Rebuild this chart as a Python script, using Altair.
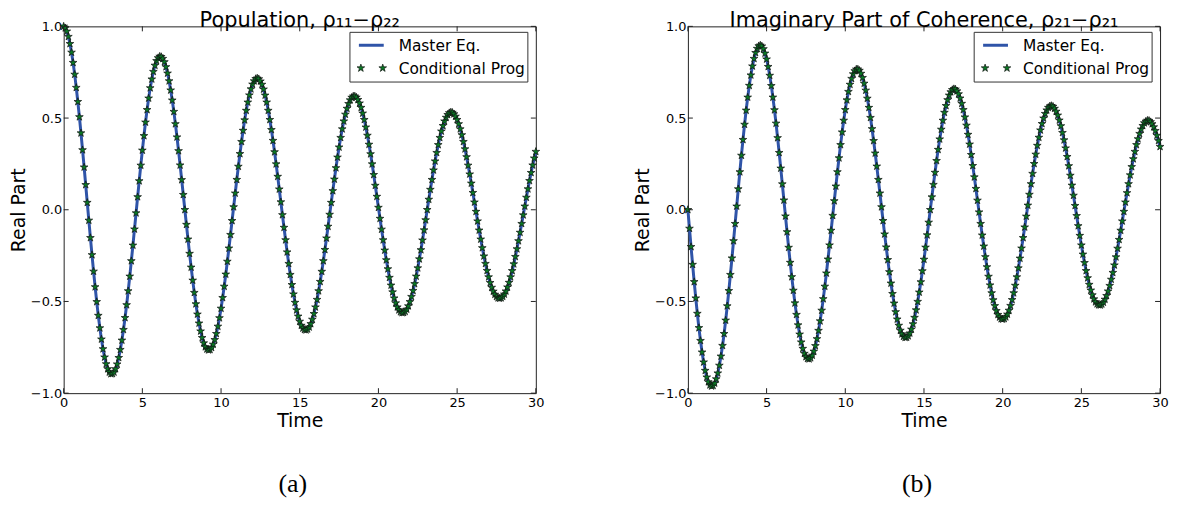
import altair as alt
import pandas as pd

# ---------------- data ----------------
time = [
    0.0, 0.1, 0.2, 0.3, 0.4, 0.5, 0.6, 0.7, 0.8, 0.9,
    1.0, 1.1, 1.2, 1.3, 1.4, 1.5, 1.6, 1.7, 1.8, 1.9,
    2.0, 2.1, 2.2, 2.3, 2.4, 2.5, 2.6, 2.7, 2.8, 2.9,
    3.0, 3.1, 3.2, 3.3, 3.4, 3.5, 3.6, 3.7, 3.8, 3.9,
    4.0, 4.1, 4.2, 4.3, 4.4, 4.5, 4.6, 4.7, 4.8, 4.9,
    5.0, 5.1, 5.2, 5.3, 5.4, 5.5, 5.6, 5.7, 5.8, 5.9,
    6.0, 6.1, 6.2, 6.3, 6.4, 6.5, 6.6, 6.7, 6.8, 6.9,
    7.0, 7.1, 7.2, 7.3, 7.4, 7.5, 7.6, 7.7, 7.8, 7.9,
    8.0, 8.1, 8.2, 8.3, 8.4, 8.5, 8.6, 8.7, 8.8, 8.9,
    9.0, 9.1, 9.2, 9.3, 9.4, 9.5, 9.6, 9.7, 9.8, 9.9,
    10.0, 10.1, 10.2, 10.3, 10.4, 10.5, 10.6, 10.7, 10.8, 10.9,
    11.0, 11.1, 11.2, 11.3, 11.4, 11.5, 11.6, 11.7, 11.8, 11.9,
    12.0, 12.1, 12.2, 12.3, 12.4, 12.5, 12.6, 12.7, 12.8, 12.9,
    13.0, 13.1, 13.2, 13.3, 13.4, 13.5, 13.6, 13.7, 13.8, 13.9,
    14.0, 14.1, 14.2, 14.3, 14.4, 14.5, 14.6, 14.7, 14.8, 14.9,
    15.0, 15.1, 15.2, 15.3, 15.4, 15.5, 15.6, 15.7, 15.8, 15.9,
    16.0, 16.1, 16.2, 16.3, 16.4, 16.5, 16.6, 16.7, 16.8, 16.9,
    17.0, 17.1, 17.2, 17.3, 17.4, 17.5, 17.6, 17.7, 17.8, 17.9,
    18.0, 18.1, 18.2, 18.3, 18.4, 18.5, 18.6, 18.7, 18.8, 18.9,
    19.0, 19.1, 19.2, 19.3, 19.4, 19.5, 19.6, 19.7, 19.8, 19.9,
    20.0, 20.1, 20.2, 20.3, 20.4, 20.5, 20.6, 20.7, 20.8, 20.9,
    21.0, 21.1, 21.2, 21.3, 21.4, 21.5, 21.6, 21.7, 21.8, 21.9,
    22.0, 22.1, 22.2, 22.3, 22.4, 22.5, 22.6, 22.7, 22.8, 22.9,
    23.0, 23.1, 23.2, 23.3, 23.4, 23.5, 23.6, 23.7, 23.8, 23.9,
    24.0, 24.1, 24.2, 24.3, 24.4, 24.5, 24.6, 24.7, 24.8, 24.9,
    25.0, 25.1, 25.2, 25.3, 25.4, 25.5, 25.6, 25.7, 25.8, 25.9,
    26.0, 26.1, 26.2, 26.3, 26.4, 26.5, 26.6, 26.7, 26.8, 26.9,
    27.0, 27.1, 27.2, 27.3, 27.4, 27.5, 27.6, 27.7, 27.8, 27.9,
    28.0, 28.1, 28.2, 28.3, 28.4, 28.5, 28.6, 28.7, 28.8, 28.9,
    29.0, 29.1, 29.2, 29.3, 29.4, 29.5, 29.6, 29.7, 29.8, 29.9,
    30.0,
]

# (a) Population rho11 - rho22
population = [
    1.000, 0.991, 0.973, 0.944, 0.905, 0.858, 0.802, 0.738, 0.666, 0.589,
    0.506, 0.418, 0.326, 0.232, 0.136, 0.039, -0.058, -0.153, -0.246, -0.336,
    -0.421, -0.502, -0.577, -0.645, -0.706, -0.759, -0.804, -0.841, -0.868, -0.886,
    -0.895, -0.894, -0.886, -0.868, -0.842, -0.807, -0.763, -0.712, -0.654, -0.589,
    -0.519, -0.443, -0.363, -0.279, -0.194, -0.106, -0.018, 0.070, 0.157, 0.242,
    0.324, 0.403, 0.477, 0.545, 0.608, 0.664, 0.712, 0.753, 0.787, 0.812,
    0.828, 0.836, 0.834, 0.824, 0.806, 0.779, 0.744, 0.702, 0.652, 0.597,
    0.535, 0.468, 0.396, 0.321, 0.243, 0.163, 0.082, 0.000, -0.081, -0.161,
    -0.239, -0.314, -0.385, -0.452, -0.514, -0.570, -0.619, -0.662, -0.698, -0.727,
    -0.748, -0.760, -0.765, -0.763, -0.752, -0.734, -0.709, -0.676, -0.636, -0.590,
    -0.538, -0.480, -0.418, -0.352, -0.282, -0.210, -0.136, -0.060, 0.015, 0.090,
    0.164, 0.236, 0.305, 0.371, 0.432, 0.489, 0.541, 0.586, 0.625, 0.658,
    0.684, 0.702, 0.714, 0.717, 0.713, 0.701, 0.683, 0.657, 0.624, 0.586,
    0.541, 0.491, 0.436, 0.377, 0.315, 0.249, 0.181, 0.112, 0.042, -0.028,
    -0.097, -0.165, -0.231, -0.294, -0.354, -0.409, -0.460, -0.506, -0.547, -0.581,
    -0.609, -0.631, -0.646, -0.654, -0.656, -0.651, -0.640, -0.622, -0.598, -0.567,
    -0.531, -0.490, -0.443, -0.392, -0.337, -0.279, -0.218, -0.155, -0.091, -0.026,
    0.039, 0.103, 0.166, 0.228, 0.286, 0.341, 0.393, 0.440, 0.483, 0.520,
    0.552, 0.578, 0.598, 0.612, 0.619, 0.619, 0.613, 0.600, 0.581, 0.557,
    0.526, 0.491, 0.450, 0.405, 0.356, 0.304, 0.249, 0.191, 0.132, 0.072,
    0.012, -0.048, -0.107, -0.165, -0.221, -0.274, -0.323, -0.370, -0.412, -0.449,
    -0.482, -0.509, -0.531, -0.547, -0.557, -0.562, -0.561, -0.555, -0.543, -0.525,
    -0.502, -0.474, -0.441, -0.404, -0.363, -0.318, -0.269, -0.219, -0.166, -0.111,
    -0.056, 0.000, 0.056, 0.110, 0.164, 0.216, 0.265, 0.311, 0.354, 0.393,
    0.428, 0.458, 0.483, 0.503, 0.518, 0.528, 0.532, 0.530, 0.522, 0.509,
    0.491, 0.468, 0.440, 0.408, 0.371, 0.331, 0.288, 0.242, 0.194, 0.144,
    0.093, 0.041, -0.010, -0.062, -0.112, -0.161, -0.208, -0.253, -0.294, -0.332,
    -0.367, -0.398, -0.424, -0.445, -0.462, -0.474, -0.481, -0.483, -0.481, -0.473,
    -0.461, -0.444, -0.422, -0.397, -0.367, -0.333, -0.296, -0.256, -0.214, -0.170,
    -0.124, -0.076, -0.029, 0.019, 0.067, 0.113, 0.158, 0.202, 0.243, 0.281,
    0.317,
]

# (b) Imaginary part of coherence rho21
coherence = [
    0.000, -0.102, -0.202, -0.299, -0.393, -0.482, -0.566, -0.644, -0.714, -0.777,
    -0.831, -0.877, -0.913, -0.939, -0.956, -0.962, -0.959, -0.946, -0.923, -0.891,
    -0.849, -0.799, -0.741, -0.676, -0.603, -0.525, -0.442, -0.354, -0.264, -0.170,
    -0.076, 0.019, 0.113, 0.206, 0.296, 0.382, 0.465, 0.542, 0.613, 0.677,
    0.734, 0.783, 0.824, 0.856, 0.879, 0.893, 0.897, 0.892, 0.877, 0.853,
    0.821, 0.780, 0.732, 0.676, 0.613, 0.544, 0.471, 0.392, 0.311, 0.226,
    0.140, 0.052, -0.035, -0.121, -0.206, -0.288, -0.366, -0.440, -0.509, -0.572,
    -0.629, -0.679, -0.722, -0.757, -0.784, -0.802, -0.812, -0.814, -0.808, -0.794,
    -0.772, -0.742, -0.704, -0.659, -0.607, -0.549, -0.486, -0.418, -0.346, -0.270,
    -0.193, -0.113, -0.032, 0.048, 0.128, 0.206, 0.282, 0.354, 0.423, 0.487,
    0.545, 0.598, 0.644, 0.683, 0.715, 0.740, 0.757, 0.766, 0.766, 0.759,
    0.743, 0.720, 0.689, 0.651, 0.607, 0.557, 0.502, 0.441, 0.376, 0.308,
    0.237, 0.164, 0.090, 0.015, -0.060, -0.133, -0.204, -0.273, -0.339, -0.401,
    -0.458, -0.510, -0.557, -0.597, -0.631, -0.658, -0.678, -0.691, -0.697, -0.696,
    -0.688, -0.673, -0.652, -0.623, -0.588, -0.547, -0.501, -0.450, -0.394, -0.334,
    -0.271, -0.205, -0.138, -0.069, 0.000, 0.069, 0.137, 0.203, 0.267, 0.328,
    0.385, 0.438, 0.487, 0.530, 0.567, 0.599, 0.624, 0.642, 0.654, 0.659,
    0.657, 0.647, 0.631, 0.608, 0.579, 0.545, 0.505, 0.460, 0.410, 0.357,
    0.300, 0.240, 0.178, 0.115, 0.051, -0.013, -0.076, -0.139, -0.199, -0.257,
    -0.312, -0.364, -0.411, -0.454, -0.492, -0.524, -0.551, -0.572, -0.586, -0.595,
    -0.597, -0.594, -0.585, -0.570, -0.549, -0.523, -0.491, -0.454, -0.413, -0.367,
    -0.318, -0.265, -0.210, -0.153, -0.095, -0.036, 0.024, 0.083, 0.141, 0.197,
    0.251, 0.302, 0.350, 0.394, 0.434, 0.469, 0.499, 0.524, 0.543, 0.557,
    0.565, 0.567, 0.563, 0.552, 0.536, 0.515, 0.488, 0.457, 0.420, 0.380,
    0.336, 0.289, 0.239, 0.187, 0.133, 0.078, 0.022, -0.033, -0.088, -0.141,
    -0.193, -0.243, -0.289, -0.333, -0.372, -0.408, -0.439, -0.465, -0.487, -0.503,
    -0.514, -0.519, -0.520, -0.515, -0.505, -0.489, -0.469, -0.444, -0.414, -0.380,
    -0.343, -0.302, -0.258, -0.211, -0.163, -0.113, -0.062, -0.010, 0.041, 0.092,
    0.141, 0.189, 0.234, 0.277, 0.317, 0.354, 0.386, 0.415, 0.439, 0.458,
    0.473, 0.482, 0.487, 0.486, 0.479, 0.468, 0.451, 0.431, 0.405, 0.376,
    0.344,
]

x_ticks = [0, 5, 10, 15, 20, 25, 30]
y_ticks = [-1.0, -0.5, 0.0, 0.5, 1.0]
series_names = ["Master Eq.", "Conditional Prog"]
titles = ["Population, ρ₁₁−ρ₂₂", "Imaginary Part of Coherence, ρ₂₁−ρ₂₁"]
captions = ["(a)", "(b)"]

# ---------------- styling ----------------
W, H = 475, 369
FONT = "DejaVu Sans"
LINE_COLOR = "#2f54a8"
STAR_FILL = "#0a7a25"
AX = "#222222"
TICK = 5
STAR = ("M0,-1L0.2245,-0.309L0.951,-0.309L0.363,0.118L0.588,0.809L0,0.382"
        "L-0.588,0.809L-0.363,0.118L-0.951,-0.309L-0.2245,-0.309Z")
STAR_SIZE = 66

xs = alt.Scale(domain=[0, 30], nice=False, zero=False)
ys = alt.Scale(domain=[-1, 1], nice=False, zero=False)
x_axis = alt.Axis(title="Time", values=x_ticks, format="d")
y_axis = alt.Axis(title="Real Part", values=y_ticks, format=".1f")
one = alt.Data(values=[{"k": 1}])


def X(field):
    return alt.X(f"{field}:Q", scale=xs, axis=x_axis, title="Time")


def Y(field):
    return alt.Y(f"{field}:Q", scale=ys, axis=y_axis, title="Real Part")


def star_mark(chart):
    return chart.mark_point(shape=STAR, filled=True, fill=STAR_FILL, stroke="#111111",
                            strokeWidth=0.7, size=STAR_SIZE, opacity=1)


def panel(values, title, caption):
    df = pd.DataFrame({"t": time, "v": values})
    base = alt.Chart(df)
    line = base.mark_line(color=LINE_COLOR, strokeWidth=3).encode(x=X("t"), y=Y("v"))
    stars = star_mark(base).encode(x=X("t"), y=Y("v"))

    xt = alt.Chart(pd.DataFrame({"t": x_ticks}))
    yt = alt.Chart(pd.DataFrame({"v": y_ticks}))
    tb = xt.mark_rule(color=AX, strokeWidth=1).encode(
        x=X("t"), y=alt.value(H), y2=alt.value(H - TICK))
    tt = xt.mark_rule(color=AX, strokeWidth=1).encode(
        x=X("t"), y=alt.value(0), y2=alt.value(TICK))
    tl = yt.mark_rule(color=AX, strokeWidth=1).encode(
        y=Y("v"), x=alt.value(0), x2=alt.value(TICK))
    tr = yt.mark_rule(color=AX, strokeWidth=1).encode(
        y=Y("v"), x=alt.value(W), x2=alt.value(W - TICK))

    # legend (guide drawn in panel pixels)
    box = alt.Chart(one).mark_rect(fill="white", stroke="#333333", strokeWidth=1).encode(
        x=alt.value(288), x2=alt.value(467), y=alt.value(6), y2=alt.value(56))
    lline = alt.Chart(one).mark_rule(color=LINE_COLOR, strokeWidth=3).encode(
        x=alt.value(297), x2=alt.value(322), y=alt.value(19))
    lstar1 = star_mark(alt.Chart(one)).encode(x=alt.value(299), y=alt.value(42))
    lstar2 = star_mark(alt.Chart(one)).encode(x=alt.value(321), y=alt.value(42))
    ltext1 = alt.Chart(one).mark_text(text=series_names[0], align="left",
                                      baseline="alphabetic", font=FONT, fontSize=15.5,
                                      color="black").encode(x=alt.value(337), y=alt.value(25))
    ltext2 = alt.Chart(one).mark_text(text=series_names[1], align="left",
                                      baseline="alphabetic", font=FONT, fontSize=15.5,
                                      color="black").encode(x=alt.value(337), y=alt.value(48))
    cap = alt.Chart(one).mark_text(text=caption, align="center", baseline="alphabetic",
                                   font="Liberation Serif", fontSize=26,
                                   color="black").encode(x=alt.value(W / 2 - 7),
                                                         y=alt.value(H + 99))

    return alt.layer(line, stars, tb, tt, tl, tr, box, lline, lstar1, lstar2,
                     ltext1, ltext2, cap).properties(
        width=W, height=H,
        title=alt.TitleParams(text=title, font=FONT, fontSize=21, fontWeight="normal",
                              color="black", anchor="middle", frame="group", offset=-11),
    )


chart = alt.hconcat(
    panel(population, titles[0], captions[0]),
    panel(coherence, titles[1], captions[1]),
    spacing=88,
).properties(padding=0, background="white").configure_view(
    stroke=AX, strokeWidth=1
).configure_axis(
    grid=False, domain=False, ticks=False, tickSize=0,
    labelFont=FONT, labelFontSize=13, labelColor="black", labelPadding=3,
    labelFlush=False, labelOverlap=False,
    titleFont=FONT, titleFontSize=19, titleFontWeight="normal", titleColor="black",
).configure_axisLeft(titlePadding=2, labelPadding=2).configure_axisBottom(titlePadding=3)

chart.save("out.html", embed_options={"renderer": "svg", "actions": False})
